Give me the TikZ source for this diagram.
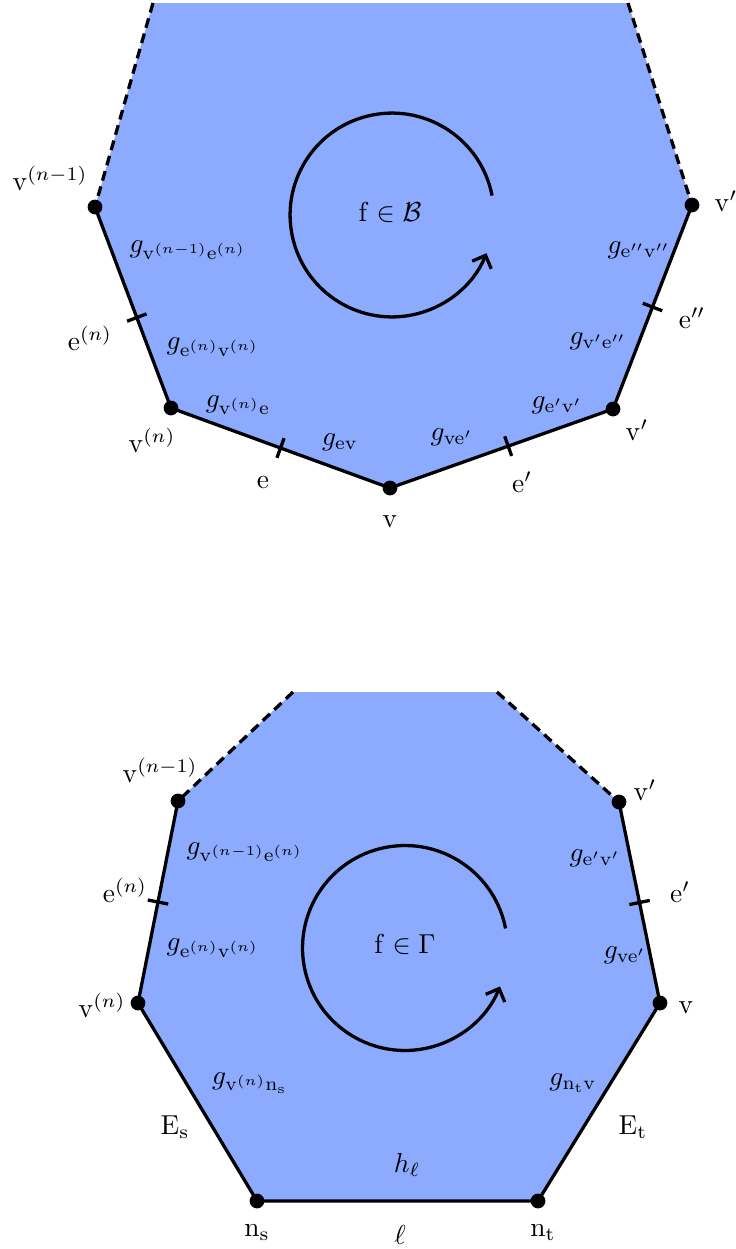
\documentclass[tikz,border=0pt]{standalone}
\usepackage{amsmath,amssymb}
\usepackage{xcolor}
\usetikzlibrary{calc,arrows.meta}
\definecolor{facefill}{RGB}{140,171,255}

\begin{document}
\begin{tikzpicture}[x=0.365pt,y=-0.365pt,
  edge/.style={line width=1.2pt},
  dashedge/.style={line width=1.2pt, dash pattern=on 3.6pt off 2.2pt},
  tickmark/.style={line width=1.2pt},
  arr/.style={line width=1.2pt,-{Straight Barb[length=3.8pt,width=7.5pt]}}
]
\useasboundingbox (0,0) rectangle (735,1249);

% face in B
\coordinate (tl) at (153,3);
\coordinate (tr) at (628,3);
\coordinate (a1) at (95,207);
\coordinate (a2) at (171,408);
\coordinate (a3) at (390,488);
\coordinate (a4) at (613,409);
\coordinate (a5) at (692,205);
\coordinate (c1) at (392,215);

\fill[facefill] (tl) -- (a1) -- (a2) -- (a3) -- (a4) -- (a5) -- (tr) -- cycle;
\draw[dashedge] (tl) -- (a1);
\draw[dashedge] (tr) -- (a5);
\draw[edge] (a1) -- (a2) -- (a3) -- (a4) -- (a5);

\coordinate (te1) at ($(a1)!0.55!(a2)$);
\coordinate (te2) at ($(a2)!0.5!(a3)$);
\coordinate (te3) at ($(a3)!0.53!(a4)$);
\coordinate (te4) at ($(a4)!0.5!(a5)$);
\draw[tickmark] ($(te1)!3.8pt!90:(a2)$) -- ($(te1)!3.8pt!-90:(a2)$);
\draw[tickmark] ($(te2)!3.8pt!90:(a3)$) -- ($(te2)!3.8pt!-90:(a3)$);
\draw[tickmark] ($(te3)!3.8pt!90:(a4)$) -- ($(te3)!3.8pt!-90:(a4)$);
\draw[tickmark] ($(te4)!3.8pt!90:(a5)$) -- ($(te4)!3.8pt!-90:(a5)$);

\foreach \p in {a1,a2,a3,a4,a5}
  \fill (\p) circle (2.7pt);

\draw[arr] ([shift={(11:37.2pt)}]c1) arc[start angle=11, end angle=338, radius=37.2pt];
\node (fB) at (390,213) {$\mathrm{f}\in\mathcal{B}$};

\node (lv1) at (50,178) {$\mathrm{v}^{(n-1)}$};
\node (len) at (90,338) {$\mathrm{e}^{(n)}$};
\node (lvn) at (152,440) {$\mathrm{v}^{(n)}$};
\node (le)  at (263,483) {$\mathrm{e}$};
\node (lv)  at (390,522) {$\mathrm{v}$};
\node (lep) at (522,482) {$\mathrm{e}'$};
\node (lvp) at (637,430) {$\mathrm{v}'$};
\node (lepp) at (692,318) {$\mathrm{e}''$};
\node[anchor=west] (lvpp) at (705,201) {$\mathrm{v}''$};

\node (g1) at (188,250) {$g_{\mathrm{v}^{(n-1)}\mathrm{e}^{(n)}}$};
\node (g2) at (213,347) {$g_{\mathrm{e}^{(n)}\mathrm{v}^{(n)}}$};
\node (g3) at (238,405) {$g_{\mathrm{v}^{(n)}\mathrm{e}}$};
\node (g4) at (340,442) {$g_{\mathrm{e}\mathrm{v}}$};
\node (g5) at (452,437) {$g_{\mathrm{v}\mathrm{e}'}$};
\node (g6) at (557,405) {$g_{\mathrm{e}'\mathrm{v}'}$};
\node (g7) at (598,341) {$g_{\mathrm{v}'\mathrm{e}''}$};
\node (g8) at (639,250) {$g_{\mathrm{e}''\mathrm{v}''}$};

% face in Gamma
\coordinate (bl) at (293,692);
\coordinate (br) at (497,692);
\coordinate (b1) at (178,801);
\coordinate (b2) at (138,1003);
\coordinate (b3) at (257,1201);
\coordinate (b4) at (538,1201);
\coordinate (b5) at (660,1003);
\coordinate (b6) at (619,802);
\coordinate (c2) at (405,948);

\fill[facefill] (bl) -- (b1) -- (b2) -- (b3) -- (b4) -- (b5) -- (b6) -- (br) -- cycle;
\draw[dashedge] (bl) -- (b1);
\draw[dashedge] (br) -- (b6);
\draw[edge] (b1) -- (b2) -- (b3) -- (b4) -- (b5) -- (b6);

\coordinate (tb1) at ($(b1)!0.5!(b2)$);
\coordinate (tb2) at ($(b5)!0.5!(b6)$);
\draw[tickmark] ($(tb1)!3.8pt!90:(b2)$) -- ($(tb1)!3.8pt!-90:(b2)$);
\draw[tickmark] ($(tb2)!3.8pt!90:(b6)$) -- ($(tb2)!3.8pt!-90:(b6)$);

\foreach \p in {b1,b2,b3,b4,b5,b6}
  \fill (\p) circle (2.7pt);

\draw[arr] ([shift={(11:37.4pt)}]c2) arc[start angle=11, end angle=338, radius=37.4pt];
\node (fG) at (405,945) {$\mathrm{f}\in\Gamma$};

\node (mv1) at (160,770) {$\mathrm{v}^{(n-1)}$};
\node (men) at (125,890) {$\mathrm{e}^{(n)}$};
\node (mvn) at (102,1005) {$\mathrm{v}^{(n)}$};
\node (mvp) at (645,790) {$\mathrm{v}'$};
\node (mep) at (680,892) {$\mathrm{e}'$};
\node (mv)  at (686,1008) {$\mathrm{v}$};
\node (mEs) at (175,1127) {$\mathrm{E}_{\mathrm{s}}$};
\node (mEt) at (633,1127) {$\mathrm{E}_{\mathrm{t}}$};
\node (mns) at (257,1233) {$\mathrm{n}_{\mathrm{s}}$};
\node (ml)  at (400,1235) {$\ell$};
\node (mnt) at (543,1233) {$\mathrm{n}_{\mathrm{t}}$};

\node (h1) at (245,852) {$g_{\mathrm{v}^{(n-1)}\mathrm{e}^{(n)}}$};
\node (h2) at (213,948) {$g_{\mathrm{e}^{(n)}\mathrm{v}^{(n)}}$};
\node (h3) at (595,858) {$g_{\mathrm{e}'\mathrm{v}'}$};
\node (h4) at (625,955) {$g_{\mathrm{v}\mathrm{e}'}$};
\node (h5) at (250,1083) {$g_{\mathrm{v}^{(n)}\mathrm{n}_{\mathrm{s}}}$};
\node (h6) at (573,1083) {$g_{\mathrm{n}_{\mathrm{t}}\mathrm{v}}$};
\node (hl) at (407,1165) {$h_\ell$};

\end{tikzpicture}
\end{document}
